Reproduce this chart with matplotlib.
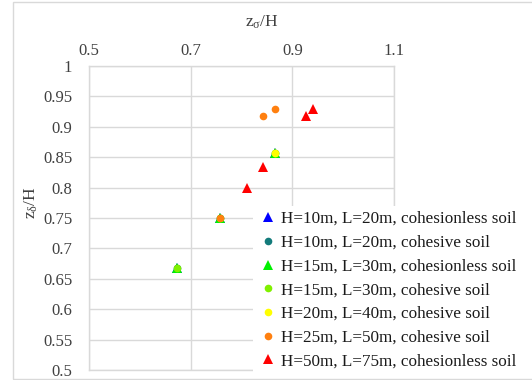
import matplotlib
matplotlib.use("Agg")
import matplotlib.pyplot as plt
from matplotlib.patches import Rectangle

plt.rcParams['font.family'] = ['Liberation Serif', 'DejaVu Serif']
plt.rcParams['mathtext.fontset'] = 'custom'
plt.rcParams['mathtext.rm'] = 'Liberation Serif'
plt.rcParams['mathtext.it'] = 'Liberation Serif'

# series data (x = z_sigma/H, y = z_delta/H)
labels = [
    "H=10m, L=20m, cohesionless soil",
    "H=10m, L=20m, cohesive soil",
    "H=15m, L=30m, cohesionless soil",
    "H=15m, L=30m, cohesive soil",
    "H=20m, L=40m, cohesive soil",
    "H=25m, L=50m, cohesive soil",
    "H=50m, L=75m, cohesionless soil",
]
h10_nc_x = [0.673, 0.758, 0.866]
h10_nc_y = [0.667, 0.750, 0.857]
h10_c_x = [0.673, 0.758, 0.866]
h10_c_y = [0.667, 0.750, 0.857]
h15_nc_x = [0.673, 0.758, 0.866]
h15_nc_y = [0.667, 0.750, 0.857]
h15_c_x = [0.673, 0.758, 0.866]
h15_c_y = [0.667, 0.750, 0.857]
h20_c_x = [0.866]
h20_c_y = [0.857]
h25_c_x = [0.758, 0.843, 0.866]
h25_c_y = [0.750, 0.918, 0.929]
h50_nc_x = [0.810, 0.843, 0.927, 0.940]
h50_nc_y = [0.800, 0.834, 0.917, 0.929]

xs = [h10_nc_x, h10_c_x, h15_nc_x, h15_c_x, h20_c_x, h25_c_x, h50_nc_x]
ys = [h10_nc_y, h10_c_y, h15_nc_y, h15_c_y, h20_c_y, h25_c_y, h50_nc_y]
colors = ['#0000ff', '#137b7b', '#00f000', '#80f000', '#ffff00', '#ff8010', '#ff0000']
markers = ['^', 'o', '^', 'o', 'o', 'o', '^']

W, H = 532, 380
fig = plt.figure(figsize=(W / 100, H / 100), dpi=100)

# outer chart frame
fig.patches.append(Rectangle((13 / W, 1.5 / H), 1.0, (376.5) / H, transform=fig.transFigure,
                             fill=False, edgecolor='#d9d9d9', linewidth=1.0))

ax = fig.add_axes([89 / W, 1 - 370 / H, (394 - 89) / W, (370 - 66) / H])

for x, y, c, m, lab in zip(xs, ys, colors, markers, labels):
    ms = 7.5 if m == '^' else 5.5
    ax.plot(x, y, linestyle='none', marker=m, color=c, markersize=ms,
            markeredgewidth=0, label=lab, zorder=3)

ax.set_xlim(0.5, 1.1)
ax.set_ylim(0.5, 1.0)
ax.set_xticks([0.5, 0.7, 0.9, 1.1])
ax.set_xticklabels(['0.5', '0.7', '0.9', '1.1'])
ax.set_yticks([0.5, 0.55, 0.6, 0.65, 0.7, 0.75, 0.8, 0.85, 0.9, 0.95, 1.0])
ax.set_yticklabels(['0.5', '0.55', '0.6', '0.65', '0.7', '0.75', '0.8', '0.85', '0.9', '0.95', '1'])
ax.xaxis.tick_top()
ax.tick_params(length=0, labelsize=12, colors='#404040')
ax.tick_params(axis='y', pad=12)
ax.tick_params(axis='x', pad=5)
ax.grid(True, color='#d9d9d9', linewidth=1.0, zorder=0)
ax.set_axisbelow(True)
for s in ax.spines.values():
    s.set_color('#d9d9d9')
    s.set_linewidth(1.0)

fig.text(262 / W, 1 - 22 / H, r'$\mathregular{z_{\sigma}/H}$', ha='center', va='center',
         fontsize=12.5, color='#404040')
fig.text(31 / W, 1 - 203 / H, r'$\mathregular{z_{\delta}/H}$', ha='center', va='center',
         fontsize=12.5, color='#404040', rotation=90)

leg = ax.legend(loc='upper left', bbox_to_anchor=(253 / W, 1 - 206 / H),
                bbox_transform=fig.transFigure, frameon=True, fancybox=False,
                edgecolor='none', facecolor='white', framealpha=1.0,
                fontsize=12.3, handlelength=1.2, handletextpad=0.12,
                labelspacing=0.45, borderpad=0.3, borderaxespad=0)
for t in leg.get_texts():
    t.set_color('#1a1a1a')
leg.set_zorder(5)

fig.savefig('out.png', dpi=100)
